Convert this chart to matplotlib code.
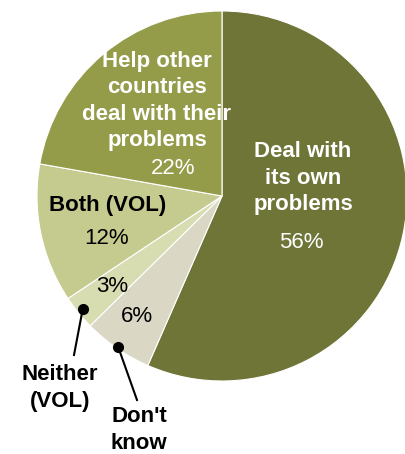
import numpy as np
import matplotlib.pyplot as plt

plt.rcParams['font.family'] = ['Liberation Sans', 'DejaVu Sans']

labels = ["Deal with\nits own\nproblems", "Don't\nknow", "Neither\n(VOL)",
          "Both (VOL)", "Help other\ncountries\ndeal with their\nproblems"]
values = [56, 6, 3, 12, 22]
colors = ['#6e7537', '#dad7c5', '#d7dcb1', '#c5cb8e', '#949c4a']

W, H = 406, 454
fig = plt.figure(figsize=(W / 100, H / 100), dpi=100)
ax = fig.add_axes([0, 0, 1, 1])

cx, cy, R = 222, H - 196, 185
wedges, _ = ax.pie(values, colors=colors, startangle=90, counterclock=False,
                   center=(cx, cy), radius=R,
                   wedgeprops=dict(edgecolor='white', linewidth=0.8))
ax.set_xlim(0, W)
ax.set_ylim(0, H)
ax.set_aspect('equal')
ax.axis('off')


def px(x, y):
    return x, H - y


bold = dict(fontsize=16, fontweight='bold', ha='center', va='center',
            linespacing=1.32)
pct = dict(fontsize=16, ha='center', va='center')

# labels inside the big slices
ax.text(*px(303, 178), labels[0], color='white', **bold)
ax.text(*px(301, 243), f"{values[0]}%", color='white', **pct)
ax.text(*px(157, 101), labels[4], color='white', **bold)
ax.text(*px(173, 168), f"{values[4]}%", color='white', **pct)
ax.text(*px(108, 206), labels[3], color='black', **bold)
ax.text(*px(107, 239), f"{values[3]}%", color='black', **pct)
ax.text(*px(112, 287), f"{values[2]}%", color='black', **pct)
ax.text(*px(137, 316), f"{values[1]}%", color='black', **pct)


def pointer(w, r_frac, end, text_xy, text):
    ang = np.deg2rad((w.theta1 + w.theta2) / 2)
    x0 = cx + R * r_frac * np.cos(ang)
    y0 = cy + R * r_frac * np.sin(ang)
    ax.plot([x0], [y0], 'o', color='black', markersize=7)
    ax.plot([x0, end[0]], [y0, H - end[1]], color='black', linewidth=1.5)
    ax.text(*px(*text_xy), text, color='black', **bold)


pointer(wedges[2], 0.97, (74, 355), (60, 388), labels[2])
pointer(wedges[1], 0.99, (137, 400), (139, 430), labels[1])

fig.savefig('out.png', dpi=100)
